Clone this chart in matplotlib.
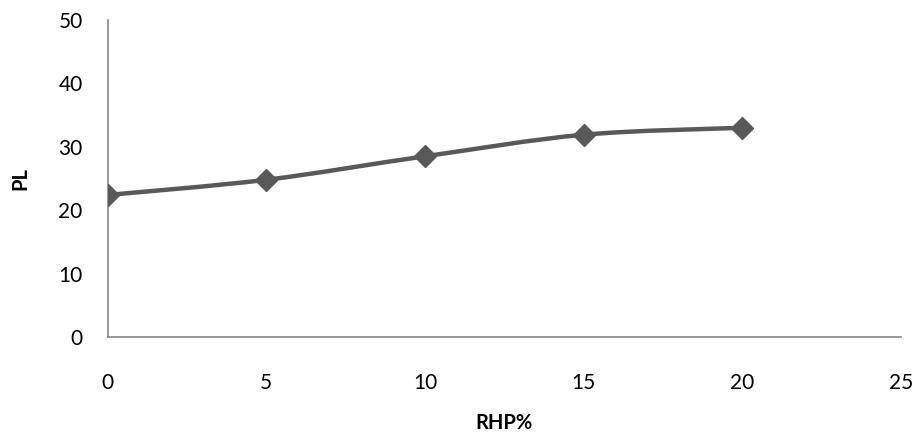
import numpy as np
import matplotlib.pyplot as plt
from matplotlib.path import Path
from matplotlib.patches import PathPatch

plt.rcParams['font.family'] = ['Lato', 'DejaVu Sans']

# datos
rhp = [0, 5, 10, 15, 20]
pl = [22.4, 24.8, 28.5, 31.9, 33.0]
x_ticks = [0, 5, 10, 15, 20, 25]
y_ticks = [0, 10, 20, 30, 40, 50]
col = '#595959'


def smooth_path(x, y, t=1/6):
    # curva suavizada tipo Catmull-Rom con segmentos Bezier cubicos
    x = np.asarray(x, float)
    y = np.asarray(y, float)
    verts = [(x[0], y[0])]
    codes = [Path.MOVETO]
    n = len(x)
    for i in range(n - 1):
        x0, y0 = (x[i - 1], y[i - 1]) if i > 0 else (x[i], y[i])
        x3, y3 = (x[i + 2], y[i + 2]) if i + 2 < n else (x[i + 1], y[i + 1])
        c1 = (x[i] + (x[i + 1] - x0) * t, y[i] + (y[i + 1] - y0) * t)
        c2 = (x[i + 1] - (x3 - x[i]) * t, y[i + 1] - (y3 - y[i]) * t)
        verts += [c1, c2, (x[i + 1], y[i + 1])]
        codes += [Path.CURVE4] * 3
    return Path(verts, codes)


fig = plt.figure(figsize=(9.18, 4.37), dpi=100)
ax = fig.add_axes([0.1173, 0.2288, 0.864, 0.7255])

ax.add_patch(PathPatch(smooth_path(rhp, pl), fill=False, edgecolor=col,
                       lw=3.2, capstyle='round', zorder=2))
ax.plot(rhp, pl, ls='none', marker='D', ms=11, color=col, zorder=3)

ax.set_xlim(0, 25)
ax.set_ylim(0, 50)
ax.set_xticks(x_ticks)
ax.set_yticks(y_ticks)
for s in ['top', 'right']:
    ax.spines[s].set_visible(False)
for s in ['left', 'bottom']:
    ax.spines[s].set_color('#868686')
    ax.spines[s].set_linewidth(1.2)
ax.tick_params(axis='x', length=0, pad=26, labelsize=15)
ax.tick_params(axis='y', length=0, pad=18, labelsize=15)
ax.set_xlabel('RHP%', fontweight='bold', fontsize=14.5, labelpad=14)
ax.set_ylabel('PL', fontweight='bold', fontsize=14.5, labelpad=20)

fig.savefig('out.png', dpi=100)
